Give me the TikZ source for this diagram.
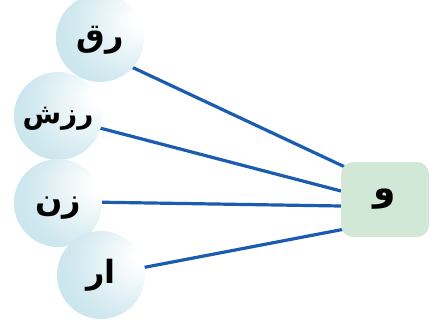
\documentclass[tikz,border=0pt]{standalone}
\usepackage{fontspec}
\newfontfamily\arabicfont[Script=Arabic]{DejaVu Sans}
\TeXXeTstate=1
\usetikzlibrary{backgrounds,calc}
\definecolor{ballout}{HTML}{AFD7E2}
\definecolor{ballmid}{HTML}{D0E8EF}
\definecolor{linkblue}{HTML}{1A5DB0}
\definecolor{boxgreen}{HTML}{D2E8D6}
\pgfdeclareradialshading{ballshade}{\pgfpoint{26bp}{12bp}}{color(0bp)=(white); color(5bp)=(white); color(32bp)=(ballmid); color(76bp)=(ballout)}
\newcommand{\urtext}[2][-0.27em]{\raisebox{#1}[0pt][0pt]{\beginR #2\endR}}
\begin{document}
\begin{tikzpicture}[x=1pt,y=-1pt,
  ball/.style={circle, minimum size=88pt, inner sep=0pt, shading=ballshade,
    font=\arabicfont\bfseries\fontsize{32}{32}\selectfont},
  smalltext/.style={font=\arabicfont\bfseries\fontsize{28}{28}\selectfont},
  wbox/.style={rectangle, rounded corners=12pt, minimum width=88pt, minimum height=75pt,
    fill=boxgreen, inner sep=0pt, font=\arabicfont\bfseries\fontsize{36}{36}\selectfont},
  link/.style={draw=linkblue, line width=3.2pt}]
\useasboundingbox (0,0) rectangle (431,327);
\node[ball] (c1) at (100,38) {\urtext{رق}};
\node[ball, smalltext] (c2) at (58,116) {\urtext{رزش}};
\node[ball] (c3) at (58,203) {\urtext{زن}};
\node[ball] (c4) at (101,275) {\urtext{ار}};
\node[wbox] (w) at (385,199.5) {\urtext[-0.02em]{و}};
\coordinate (t1) at ($(w.center)+(-40,-32.5)$);
\coordinate (t2) at ($(w.center)+(-44,-8.5)$);
\coordinate (t3) at ($(w.center)+(-44,6.5)$);
\coordinate (t4) at ($(w.center)+(-40,29.5)$);
\begin{scope}[on background layer]
\draw[link] (c1.-42) -- (t1);
\draw[link] (c2.-16) -- (t2);
\draw[link] (c3.1) -- (t3);
\draw[link] (c4.10) -- (t4);
\end{scope}
\end{tikzpicture}
\end{document}
